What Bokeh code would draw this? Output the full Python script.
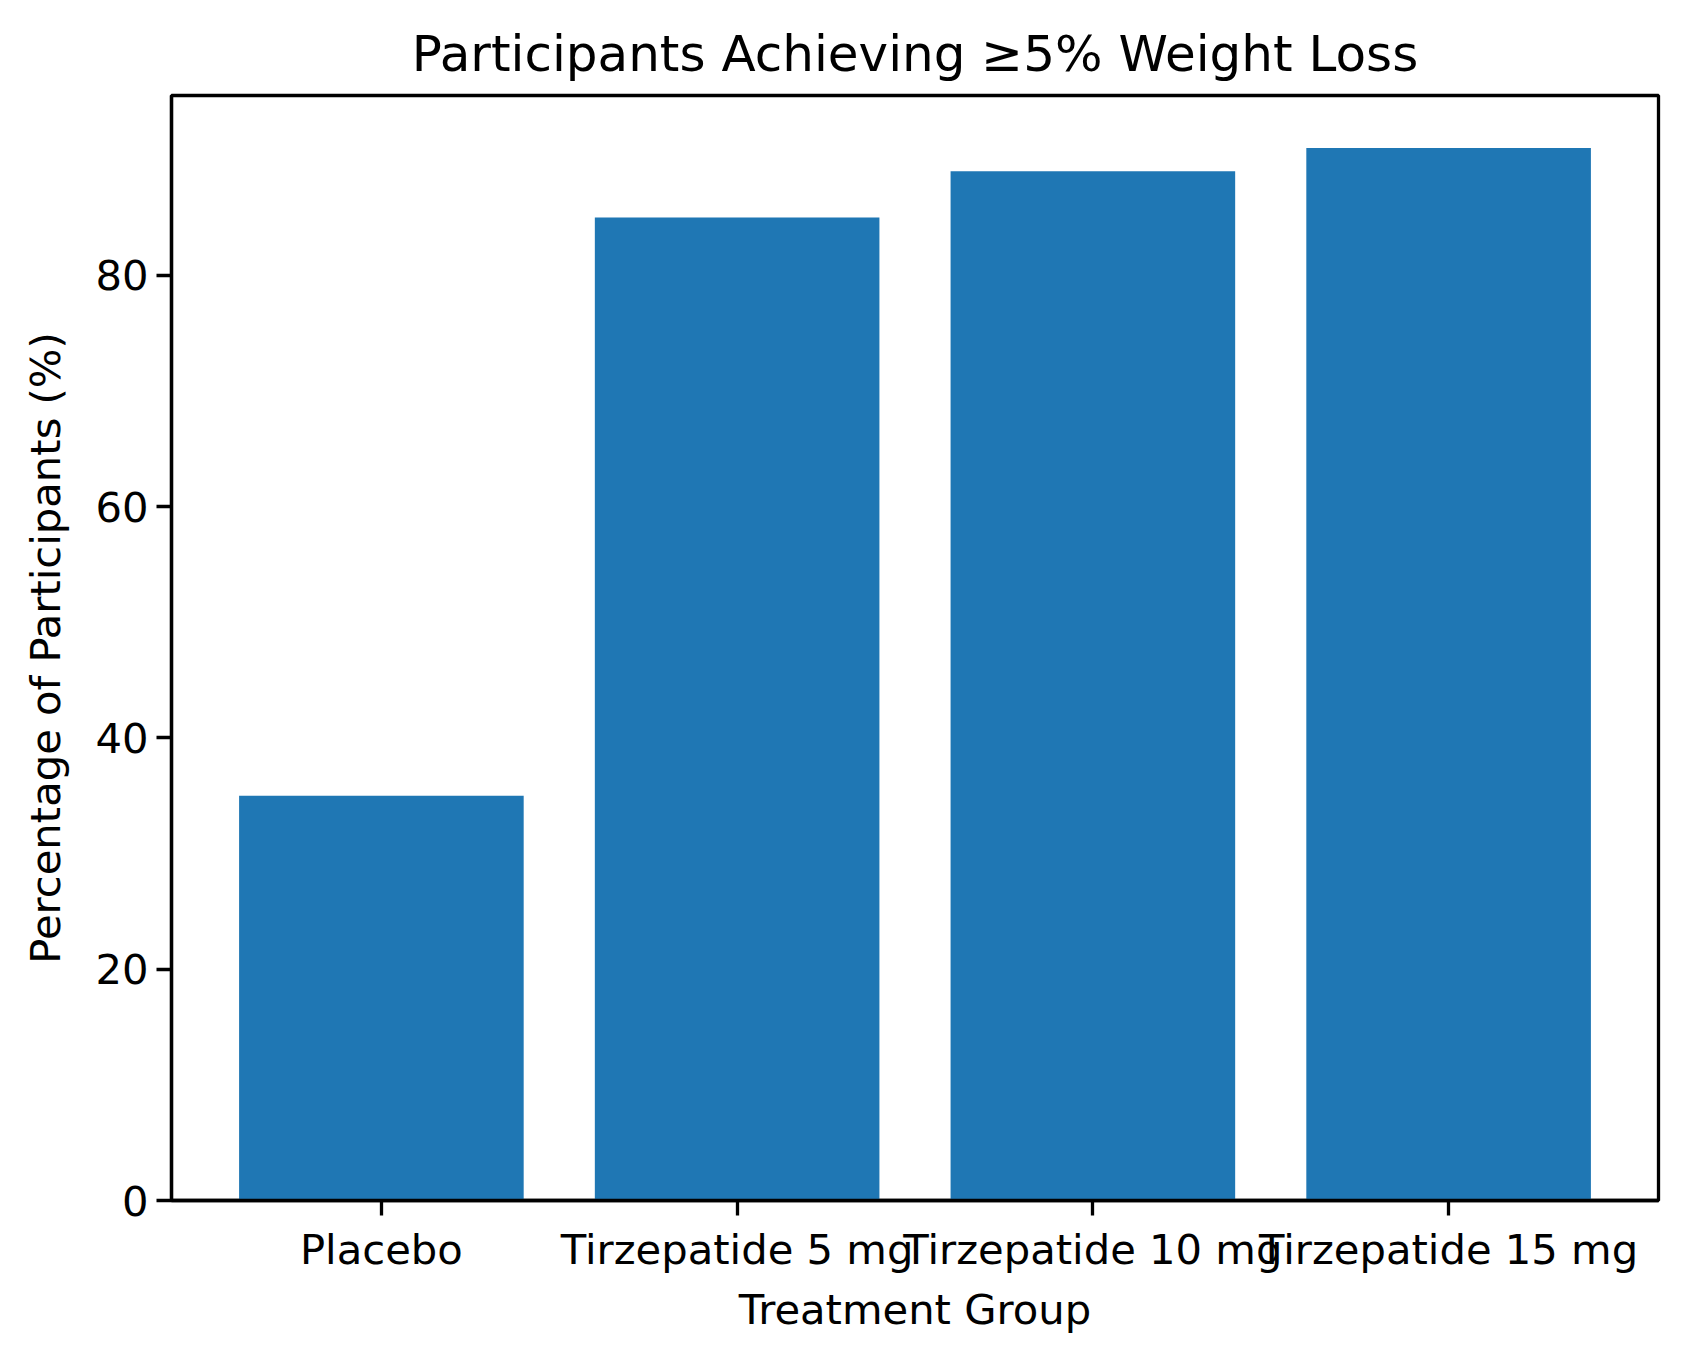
from bokeh.plotting import figure
from bokeh.models import FactorRange, Range1d, SingleIntervalTicker, ColumnDataSource
from bokeh.embed import file_html
from bokeh.resources import INLINE

groups = ["Placebo", "Tirzepatide 5 mg", "Tirzepatide 10 mg", "Tirzepatide 15 mg"]
percent = [35, 85, 89, 91]
y_ticks_interval = 20

title = "Participants Achieving \u22655% Weight Loss"
x_label = "Treatment Group"
y_label = "Percentage of Participants (%)"

FONT = "DejaVu Sans"
BLUE = "#1f77b4"

src = ColumnDataSource(data=dict(group=groups, pct=percent))

p = figure(
    width=1680, height=1353,
    x_range=FactorRange(factors=groups, range_padding=0.09, range_padding_units="absolute"),
    y_range=Range1d(0, max(percent) * 1.05),
    output_backend="svg", toolbar_location=None,
    min_border_left=171, min_border_right=22, min_border_top=95, min_border_bottom=153,
)

p.vbar(x="group", top="pct", width=0.8, source=src, fill_color=BLUE, line_color=None)

p.title.text = title
p.title.text_font = FONT
p.title.text_font_size = "50px"
p.title.text_font_style = "normal"
p.title.align = "center"
p.title.standoff = 26
p.title.text_color = "black"

p.xgrid.visible = False
p.ygrid.visible = False
p.outline_line_color = "black"
p.outline_line_width = 3.3
p.outline_line_alpha = 1.0
p.background_fill_color = "white"
p.border_fill_color = "white"

p.yaxis.ticker = SingleIntervalTicker(interval=y_ticks_interval)

for ax in (p.xaxis[0], p.yaxis[0]):
    ax.axis_line_color = "black"
    ax.axis_line_width = 3.3
    ax.major_tick_line_color = "black"
    ax.major_tick_line_width = 3.3
    ax.major_tick_out = 15
    ax.major_tick_in = 0
    ax.minor_tick_line_color = None
    ax.major_label_text_font = FONT
    ax.major_label_text_font_size = "41.7px"
    ax.major_label_text_color = "black"
    ax.axis_label_text_font = FONT
    ax.axis_label_text_font_size = "41.7px"
    ax.axis_label_text_font_style = "normal"
    ax.axis_label_text_color = "black"

p.xaxis.major_label_standoff = 9
p.xaxis.axis_label_standoff = 8
p.yaxis.major_label_standoff = 8
p.yaxis.axis_label_standoff = 22

p.xaxis.axis_label = x_label
p.yaxis.axis_label = y_label
p.xaxis.major_label_orientation = "horizontal"

open("out.html", "w").write(file_html(p, INLINE))
